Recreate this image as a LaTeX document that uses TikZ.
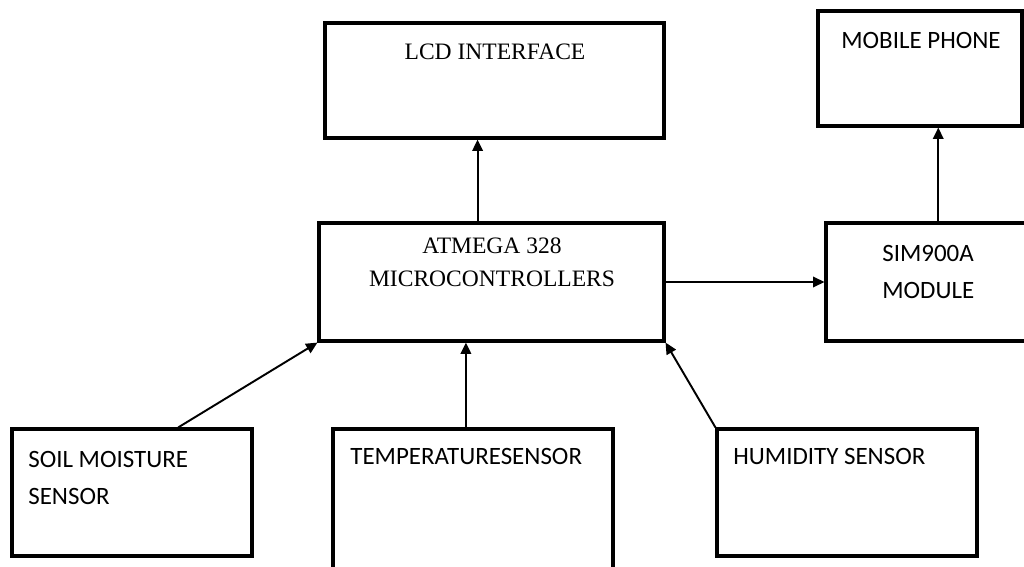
\documentclass[tikz,border=0pt]{standalone}
\usepackage{fontspec}
\setmainfont{Liberation Serif}
\newfontfamily\calibri{Carlito}
\usetikzlibrary{arrows.meta,positioning,calc}

\begin{document}
\begin{tikzpicture}[
  x=0.02cm,y=-0.02cm,
  box/.style={draw=black,line width=1.8pt,inner sep=0pt},
  serif/.style={font=\fontsize{13.4}{19.3}\selectfont,inner sep=0pt,align=center,anchor=north},
  sans/.style={font=\calibri\fontsize{14.2}{21}\selectfont,inner sep=0pt,align=left,anchor=north west},
  arr/.style={-{Triangle[length=6.5pt,width=6pt]},line width=1.1pt}]
  \useasboundingbox (0,0) rectangle (1024,567);
  \fill[white] (0,0) rectangle (1024,567);
  \clip (0,0) rectangle (1024,567);
  % blocks
  \node[box,minimum width=6.78cm,minimum height=2.3cm] (lcd) at (494.5,80.5) {};
  \node[box,minimum width=4.08cm,minimum height=2.3cm] (phone) at (920,68.5) {};
  \node[box,minimum width=6.9cm,minimum height=2.36cm] (mcu) at (491.5,282) {};
  \node[box,minimum width=4.68cm,minimum height=2.36cm] (sim) at (943,282) {};
  \node[box,minimum width=4.8cm,minimum height=2.54cm] (soil) at (132,492.5) {};
  \node[box,minimum width=5.6cm,minimum height=3.42cm] (tmp) at (473,514.5) {};
  \node[box,minimum width=5.2cm,minimum height=2.54cm] (hum) at (847,492.5) {};
  % texts
  \node[serif] (lcdtxt) at (495,44) {LCD INTERFACE};
  \node[sans,anchor=north] (phonetxt) at (921,32) {MOBILE PHONE};
  \node[serif] (mcutxt) at (492,237) {ATMEGA 328\\MICROCONTROLLERS};
  \node[sans] (simtxt) at (882,245) {SIM900A\\MODULE};
  \node[sans] (soiltxt) at (28,451) {SOIL MOISTURE\\SENSOR};
  \node[sans] (tmptxt) at (350,448) {TEMPERATURESENSOR};
  \node[sans] (humtxt) at (733,448) {HUMIDITY SENSOR};
  % links
  \draw[arr] ($(mcu.north west)!0.46!(mcu.north east)$) coordinate (m1) -- (m1 |- lcd.south);
  \draw[arr] ($(sim.north west)!0.48!(sim.north east)$) coordinate (s1) -- (s1 |- phone.south);
  \draw[arr] (mcu.east) -- (sim.west);
  \draw[arr] ($(soil.north west)!0.69!(soil.north east)$) -- (mcu.south west);
  \draw[arr] ($(tmp.north west)!0.475!(tmp.north east)$) coordinate (t1) -- (t1 |- mcu.south);
  \draw[arr] (hum.north west) -- (mcu.south east);
\end{tikzpicture}
\end{document}
